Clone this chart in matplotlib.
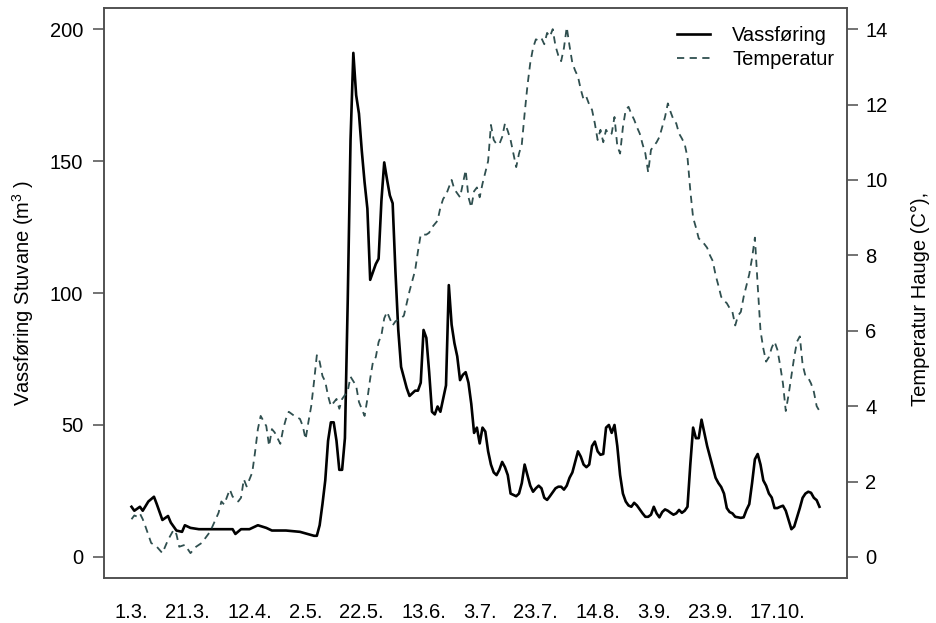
import datetime as dt
import matplotlib
matplotlib.use("Agg")
import matplotlib.pyplot as plt

plt.rcParams["font.family"] = ["Liberation Sans", "DejaVu Sans"]
plt.rcParams["mathtext.fontset"] = "custom"
plt.rcParams["mathtext.rm"] = "Liberation Sans"

# date labels on the x axis (day.month.)
tick_labels = ["1.3.", "21.3.", "12.4.", "2.5.", "22.5.", "13.6.", "3.7.",
               "23.7.", "14.8.", "3.9.", "23.9.", "17.10."]

# water flow at Stuvane, day number counted from 1 March
flow_days = [0, 1, 3, 4, 6, 8, 9, 11, 13, 14, 16, 18, 19, 21, 24, 30, 36, 37,
             39, 42, 45, 48, 50, 55, 60, 65, 66] + list(range(67, 246))
flow = [19, 17.5, 19, 17.5, 21, 22.8, 20, 14, 15.5, 13, 10, 9.5, 12, 11, 10.5,
        10.5, 10.5, 8.7, 10.5, 10.5, 12, 11, 10, 10, 9.5, 8, 8,
        12, 20, 29, 44, 51, 51, 44, 33, 33, 45, 97, 158, 191, 175, 168, 154,
        142, 132, 105, 108, 111, 113, 135, 149.5, 143, 137, 134, 108, 86, 72,
        68, 64, 61, 62, 63, 63, 66, 86, 83, 70, 55, 54, 57, 55, 60, 65, 103,
        88, 81, 76, 67, 69, 70, 66, 58, 47, 49, 43, 49, 47.5, 40, 35, 32, 31,
        33, 36, 34, 31, 24, 23.5, 23, 24, 28, 35, 31, 27, 24.7, 26, 27, 26,
        22.4, 21.6, 23, 24.5, 26, 26.6, 26.6, 25.5, 27, 30, 32, 36, 40, 38,
        35, 34, 35, 42, 43.7, 40, 38.7, 39, 49, 50, 47, 50, 42, 31, 24, 21,
        19.5, 19, 20.5, 19.5, 18, 16.5, 15.2, 15.2, 16, 19, 16.5, 15, 17, 18,
        17.5, 16.7, 16, 16.5, 17.8, 16.7, 17.5, 19, 35, 49, 45, 45, 52, 47,
        42, 38, 34, 30, 28, 26.5, 24, 18.5, 17, 16.5, 15.2, 15, 14.8, 15,
        17.8, 20, 28, 37, 39, 35, 29, 27, 24, 22.5, 18.5, 18.5, 19, 19.4,
        17.5, 14, 10.5, 11.5, 15, 18.5, 22.4, 24, 24.7, 24.3, 22.4, 21.5, 19]

# air temperature at Hauge
temp_days = [0, 1, 2, 3, 4, 5, 7, 9, 11, 13, 15, 16, 17, 19, 21, 23, 25, 28,
             30, 31, 32, 33, 35, 36, 38, 39, 40, 41, 43, 44, 45, 46, 48, 49,
             50, 51, 53, 54, 55, 56, 58, 60, 61, 62, 63, 64, 65, 66, 67, 68,
             69, 70, 71, 73, 74, 75, 77, 78, 80, 81, 83, 84, 85, 86, 87, 88,
             89, 90, 91, 93, 94, 96, 97, 98, 99, 101, 102, 103, 105, 106, 107,
             109, 110, 111, 112, 114, 115, 117, 118, 119, 120, 121, 122, 123,
             124, 125] + list(range(127, 246))
temp = [1.0, 1.1, 1.07, 1.15, 1.0, 0.8, 0.37, 0.27, 0.1, 0.45, 0.72, 0.6,
        0.27, 0.32, 0.1, 0.27, 0.37, 0.67, 1.0, 1.17, 1.47, 1.39, 1.79, 1.6,
        1.47, 1.57, 2.06, 1.87, 2.24, 2.78, 3.39, 3.74, 3.47, 2.94, 3.39, 3.3,
        3.0, 3.39, 3.66, 3.85, 3.74, 3.66, 3.47, 3.12, 3.58, 4.0, 4.65, 5.35,
        5.18, 4.8, 4.65, 4.27, 4.0, 4.19, 3.93, 4.19, 4.4, 4.78, 4.54, 4.11,
        3.74, 4.19, 4.73, 5.18, 5.3, 5.7, 5.88, 6.33, 6.5, 6.14, 6.25, 6.33,
        6.4, 6.73, 7.05, 7.6, 8.1, 8.55, 8.55, 8.6, 8.74, 8.92, 9.27, 9.5, 9.6,
        10.0, 9.75, 9.54, 9.9, 10.26, 9.54, 9.27, 9.7, 9.8, 9.54, 9.9,
        10.5, 11.46, 11.06, 10.95, 10.95, 11.14, 11.5, 11.3, 11.06, 10.7,
        10.34, 10.7, 10.95, 11.76, 12.5, 13.1, 13.5, 13.73, 13.7, 13.76, 13.6,
        13.9, 13.8, 14.0, 13.55, 13.3, 13.15, 13.5, 14.05, 13.55, 13.1, 12.9,
        12.74, 12.4, 12.13, 12.2, 12.0, 11.86, 11.5, 11.06, 11.33, 11.0,
        11.33, 11.2, 11.23, 11.67, 10.9, 10.7, 11.4, 11.86, 11.94, 11.75,
        11.6, 11.4, 11.23, 10.95, 10.7, 10.2, 10.8, 10.9, 11.0, 11.14, 11.4,
        11.67, 12.03, 11.8, 11.6, 11.5, 11.23, 11.1, 10.95, 10.6, 9.72, 9.0,
        8.74, 8.45, 8.38, 8.3, 8.2, 8.0, 7.85, 7.48, 7.2, 6.9, 6.8, 6.73, 6.6,
        6.5, 6.14, 6.4, 6.5, 6.9, 7.2, 7.5, 7.93, 8.47, 7.2, 6.0, 5.53, 5.18,
        5.3, 5.55, 5.71, 5.5, 5.08, 4.6, 3.87, 4.3, 4.8, 5.3, 5.71, 5.85, 5.1,
        4.8, 4.75, 4.6, 4.38, 4.0, 3.87]

flow_ticks = [0, 50, 100, 150, 200]
temp_ticks = [0, 2, 4, 6, 8, 10, 12, 14]


def day_of(label):
    d, m = [int(p) for p in label.strip(".").split(".")]
    return (dt.date(2015, m, d) - dt.date(2015, 3, 1)).days


tick_days = [day_of(s) for s in tick_labels]

box_col = "#4d4d4d"
temp_col = "#2f4f4f"
fs = 14.5

fig = plt.figure(figsize=(9.36, 6.23), dpi=100)
ax = fig.add_axes([0.1111, 0.0722, 0.7938, 0.9149])
ax2 = ax.twinx()

l1, = ax.plot(flow_days, flow, color="black", lw=1.9, label="Vassføring",
              zorder=3)
l2, = ax2.plot(temp_days, temp, color=temp_col, lw=1.3, dashes=(4, 3),
               label="Temperatur")

# R-style 4 % padding around the fixed ranges
span = flow_days[-1] - flow_days[0]
ax.set_xlim(-0.04 * span, flow_days[-1] + 0.04 * span)
ax.set_ylim(-8, 208)
ax2.set_ylim(-0.56, 14.56)

ax.set_xticks(tick_days)
ax.set_xticklabels(tick_labels)
ax.set_yticks(flow_ticks)
ax2.set_yticks(temp_ticks)

ax.tick_params(axis="x", length=0, pad=18, labelsize=fs)
ax.tick_params(axis="y", length=8, width=1.1, color=box_col, pad=7,
               labelsize=fs)
ax2.tick_params(axis="y", length=8, width=1.1, color=box_col, pad=5,
                labelsize=fs)

for a in (ax, ax2):
    for sp in a.spines.values():
        sp.set_color(box_col)
        sp.set_linewidth(1.1)

ax.set_ylabel("Vassføring Stuvane (m$^3$ )", fontsize=fs)
ax.yaxis.set_label_coords(-0.092, 0.5)
ax2.set_ylabel("Temperatur Hauge (C°),", fontsize=fs)
ax2.yaxis.set_label_coords(1.086, 0.49)

ax2.legend(handles=[l1, l2], loc="upper left", bbox_to_anchor=(0.771, 0.968),
           frameon=False, fontsize=fs, handlelength=1.65, handletextpad=1.1,
           labelspacing=0.25, borderpad=0, borderaxespad=0)

fig.savefig("out.png", dpi=100)
